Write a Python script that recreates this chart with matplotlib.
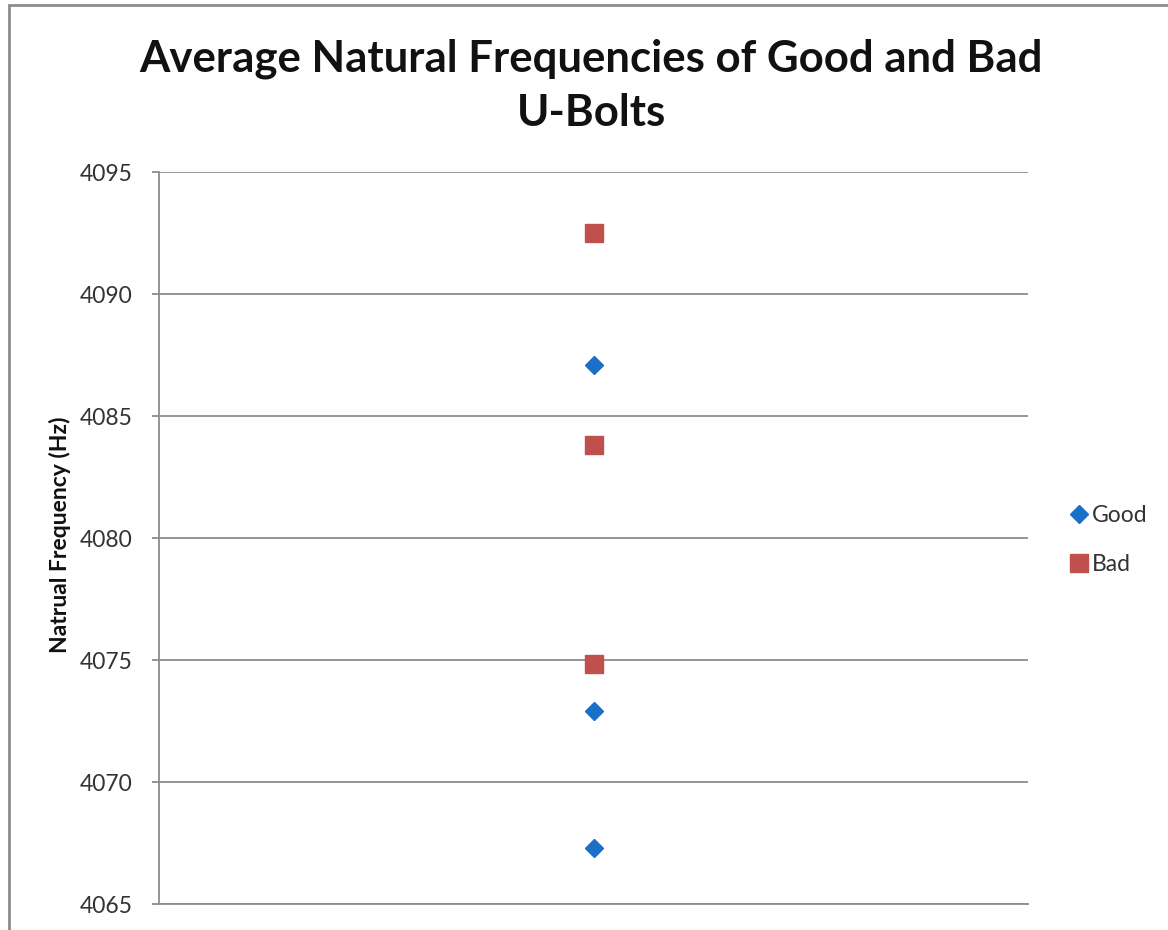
import matplotlib
matplotlib.use("Agg")
import matplotlib.pyplot as plt
from matplotlib.patches import Rectangle

title = "Average Natural Frequencies of Good and Bad\nU-Bolts"
ylabel = "Natrual Frequency (Hz)"
category_x = [1]
good_values = [4087.1, 4072.9, 4067.3]
bad_values = [4092.5, 4083.8, 4074.85]
y_ticks = [4065, 4070, 4075, 4080, 4085, 4090, 4095]

good_color = "#1a6fc6"
bad_color = "#c0504d"
grid_color = "#8c8c8c"
font = ["Lato", "DejaVu Sans"]

fig = plt.figure(figsize=(11.68, 9.30), dpi=100)
ax = fig.add_axes([159/1168, 1-904/930, (1028-159)/1168, (904-172)/930])

ax.plot(category_x * len(good_values), good_values, linestyle="none", marker="D",
        markersize=9.5, color=good_color, label="Good", zorder=3)
ax.plot(category_x * len(bad_values), bad_values, linestyle="none", marker="s",
        markersize=12.5, color=bad_color, label="Bad", zorder=3)

ax.set_xlim(0.5, 1.5)
ax.set_ylim(4065, 4095)
ax.set_yticks(y_ticks)
ax.set_yticklabels([str(v) for v in y_ticks], fontfamily=font, fontsize=16.5, color="#333333")
ax.set_xticks([])
ax.yaxis.grid(True, color=grid_color, linewidth=1.3)
ax.set_axisbelow(True)
for s in ["top", "right"]:
    ax.spines[s].set_visible(False)
ax.spines["left"].set_color(grid_color)
ax.spines["left"].set_linewidth(1.3)
ax.spines["bottom"].set_color(grid_color)
ax.spines["bottom"].set_linewidth(1.3)
ax.tick_params(axis="y", length=5, width=1.3, color=grid_color, pad=14)

fig.text(60/1168, 1-535/930, ylabel, rotation=90, ha="center", va="center",
         fontfamily=font, fontweight="bold", fontsize=16.5, color="#111111")
fig.text(591/1168, 1-86/930, title, ha="center", va="center", fontfamily=font,
         fontweight="bold", fontsize=31.5, color="#111111", linespacing=1.42)

leg = fig.legend(loc="center left", bbox_to_anchor=(1060/1168, 1-540/930), frameon=False,
                 prop={"family": font, "size": 16.5}, labelspacing=1.2, handlelength=0.7,
                 handletextpad=0.2, borderpad=0)
for t in leg.get_texts():
    t.set_color("#333333")

fig.patches.append(Rectangle((9/1168, -0.1), 1.2, 1-5/930 + 0.1, transform=fig.transFigure,
                             fill=False, edgecolor="#8c8c8c", linewidth=2))

fig.savefig("out.png", dpi=100)
